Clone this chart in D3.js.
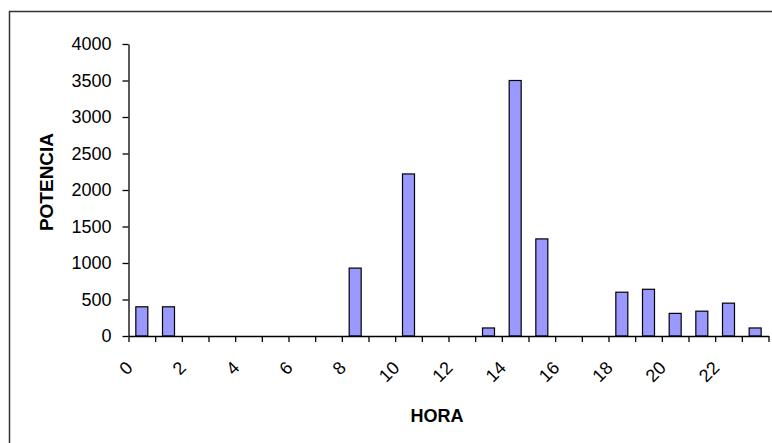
<!DOCTYPE html>
<html>
<head>
<meta charset="utf-8">
<script src="https://cdn.jsdelivr.net/npm/d3@7"></script>
<style>
  body { margin: 0; background: #fff; }
  svg { display: block; font-family: Arial, "Liberation Sans", sans-serif; }
</style>
</head>
<body>
<svg id="chart" width="772" height="443"></svg>
<script>
// hours and power
const hours = d3.range(0, 24);
const potencia = [400, 400, 0, 0, 0, 0, 0, 0, 930, 0, 2220, 0, 0, 110, 3500, 1330, 0, 0, 600, 640, 310, 340, 450, 110];
const yTicks = [0, 500, 1000, 1500, 2000, 2500, 3000, 3500, 4000];
const xLabels = [0, 2, 4, 6, 8, 10, 12, 14, 16, 18, 20, 22];

const svg = d3.select("#chart");

// outer frame (right / bottom edges run off the picture)
svg.append("rect")
  .attr("x", 9.5).attr("y", 11.5)
  .attr("width", 800).attr("height", 500)
  .style("fill", "none")
  .style("stroke", "#333")
  .style("stroke-width", 1.5);

const plotLeft = 128.5, plotRight = 768.5, plotTop = 44, plotBottom = 336;

const x = d3.scaleBand()
  .domain(hours)
  .range([plotLeft, plotRight])
  .paddingInner(0.55)
  .paddingOuter(0.275);

// category boundaries for tick marks
const xb = d3.scaleLinear().domain([0, 24]).range([plotLeft, plotRight]);

const y = d3.scaleLinear()
  .domain([0, 4000])
  .range([plotBottom, plotTop]);

// bars
svg.selectAll(".bar")
  .data(potencia)
  .enter().append("rect")
  .attr("class", "bar")
  .attr("x", (d, i) => x(hours[i]))
  .attr("y", d => y(d))
  .attr("width", x.bandwidth())
  .attr("height", d => y(0) - y(d))
  .style("fill", "#9999ff")
  .style("stroke", "#000")
  .style("stroke-width", 1.2);

// y axis
const yAxis = svg.append("g")
  .attr("transform", `translate(${plotLeft},0)`)
  .call(d3.axisLeft(y)
    .tickValues(yTicks)
    .tickFormat(d3.format("d"))
    .tickSize(6).tickPadding(11).tickSizeOuter(0));

yAxis.selectAll("path, line").style("stroke", "#000").style("stroke-width", 1.3);
yAxis.selectAll("text")
  .style("font-size", "18px")
  .style("fill", "#000");

// x axis line + boundary ticks
const xAxis = svg.append("g")
  .attr("transform", `translate(0,${plotBottom})`)
  .call(d3.axisBottom(xb).ticks(24).tickSize(6).tickSizeOuter(0).tickFormat(""));

xAxis.selectAll("path, line").style("stroke", "#000").style("stroke-width", 1.3);

// rotated hour labels
svg.selectAll(".xlab")
  .data(xLabels)
  .enter().append("text")
  .attr("class", "xlab")
  .attr("transform", d => `translate(${x(d) + x.bandwidth() / 2 - 8},${plotBottom + 33}) rotate(-45)`)
  .attr("text-anchor", "end")
  .style("font-size", "18px")
  .style("fill", "#000")
  .text(d => d);

// axis titles
svg.append("text")
  .attr("transform", `translate(53,182) rotate(-90)`)
  .attr("text-anchor", "middle")
  .style("font-size", "19px")
  .style("font-weight", "bold")
  .text("POTENCIA");

svg.append("text")
  .attr("x", 437)
  .attr("y", 422)
  .attr("text-anchor", "middle")
  .style("font-size", "18px")
  .style("font-weight", "bold")
  .text("HORA");
</script>
</body>
</html>
